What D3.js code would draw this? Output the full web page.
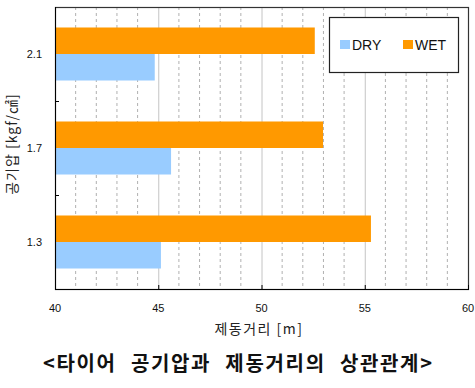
<!DOCTYPE html>
<html><head><meta charset="utf-8">
<script src="https://cdn.jsdelivr.net/npm/d3@7"></script>
<style>body{margin:0;background:#fff}svg{display:block}</style>
</head><body>
<svg id="c" width="475" height="388"></svg>
<script>
const categories = ["2.1", "1.7", "1.3"];
const series = ["WET", "DRY"];
const dryValues = [44.83, 45.62, 45.13];
const wetValues = [52.58, 52.98, 55.3];
const xTicks = [40, 45, 50, 55, 60];
const xTitle = "제동거리 [m]";
const yTitle = "공기압 [kgf/㎠]";
const caption = "<타이어 공기압과 제동거리의 상관관계>";

const svg = d3.select("#c");
const L = 55, R = 468, T = 7, B = 289;
const font = "'Liberation Sans','Noto Sans CJK KR',sans-serif";
const kfont = "'Noto Sans CJK KR',sans-serif";

const x = d3.scaleLinear().domain([40, 60]).range([L, R]);
const y = d3.scaleBand().domain(categories).range([T, B]).paddingInner(0.436).paddingOuter(0.218);
const y1 = d3.scaleBand().domain(series).range([0, y.bandwidth()]);
const color = {WET: "#FF9900", DRY: "#99CCFF"};

// minor dashed grid
const minor = d3.range(41, 60).filter(v => v % 5 !== 0);
svg.append("g").selectAll("line").data(minor).join("line")
  .attr("x1", d => x(d)).attr("x2", d => x(d)).attr("y1", T).attr("y2", B)
  .attr("stroke", "#b0b0b0").attr("stroke-width", 1).attr("stroke-dasharray", "3,3");
// major grid
svg.append("g").selectAll("line").data([45, 50, 55]).join("line")
  .attr("x1", d => x(d) + 0.5).attr("x2", d => x(d) + 0.5).attr("y1", T).attr("y2", B)
  .attr("stroke", "#c4c4c4").attr("stroke-width", 1);

const data = categories.map((c, i) => ({cat: c, WET: wetValues[i], DRY: dryValues[i]}));
const g = svg.append("g").selectAll("g").data(data).join("g")
  .attr("transform", d => `translate(0,${y(d.cat)})`);
g.selectAll("rect").data(d => series.map(s => ({s, v: d[s]}))).join("rect")
  .attr("x", x(40)).attr("y", d => y1(d.s)).attr("width", d => x(d.v) - x(40))
  .attr("height", y1.bandwidth()).attr("fill", d => color[d.s]);

// frame
svg.append("rect").attr("x", L + 0.5).attr("y", T + 0.5).attr("width", R - L).attr("height", B - T)
  .attr("fill", "none").attr("stroke", "#333").attr("stroke-width", 1.2);
svg.append("line").attr("x1", L + 0.5).attr("x2", L + 0.5).attr("y1", T).attr("y2", B + 1).attr("stroke", "#000");
svg.append("line").attr("x1", L).attr("x2", R + 1).attr("y1", B + 0.5).attr("y2", B + 0.5).attr("stroke", "#000");

// x axis ticks
svg.append("g").selectAll("line").data(xTicks).join("line")
  .attr("x1", d => x(d) + 0.5).attr("x2", d => x(d) + 0.5).attr("y1", B - 4).attr("y2", B)
  .attr("stroke", "#000");
svg.append("g").selectAll("text").data(xTicks).join("text")
  .attr("x", d => x(d)).attr("y", 312).attr("text-anchor", "middle")
  .attr("font-family", font).attr("font-size", 11).attr("fill", "#111").text(d => d);

// y axis separators ticks
const step = y.step();
svg.append("g").selectAll("line").data([1, 2]).join("line")
  .attr("x1", L).attr("x2", L + 4).attr("y1", d => T + d * step + 0.5).attr("y2", d => T + d * step + 0.5)
  .attr("stroke", "#000");
svg.append("g").selectAll("text").data(categories).join("text")
  .attr("x", 42).attr("y", d => y(d) + y.bandwidth() / 2 + 4).attr("text-anchor", "end")
  .attr("font-family", font).attr("font-size", 11).attr("fill", "#111").text(d => d);

// titles
svg.append("text").attr("x", 259).attr("y", 334).attr("text-anchor", "middle")
  .attr("font-family", kfont).attr("font-size", 14).attr("letter-spacing", 1.5).attr("fill", "#222").text(xTitle);
svg.append("text").attr("transform", `translate(17,144) rotate(-90)`).attr("text-anchor", "middle")
  .attr("font-family", kfont).attr("font-size", 14).attr("letter-spacing", 1).attr("fill", "#222").text(yTitle);
svg.append("text").attr("x", 43).attr("y", 371)
  .attr("font-family", kfont).attr("font-weight", "bold").attr("font-size", 20).attr("word-spacing", 8)
  .attr("textLength", 389).attr("lengthAdjust", "spacing")
  .attr("fill", "#111").text(caption);

// legend
const lg = svg.append("g");
lg.append("rect").attr("x", 329.5).attr("y", 17.5).attr("width", 129).attr("height", 55)
  .attr("fill", "#fff").attr("stroke", "#222").attr("stroke-width", 1.2);
const legendItems = [{s: "DRY", x: 340}, {s: "WET", x: 403}];
legendItems.forEach(it => {
  lg.append("rect").attr("x", it.x).attr("y", 40).attr("width", 10).attr("height", 9).attr("fill", color[it.s]);
  lg.append("text").attr("x", it.x + 12).attr("y", 50).attr("font-family", font).attr("font-size", 14)
    .attr("fill", "#111").text(it.s);
});
</script>
</body></html>
